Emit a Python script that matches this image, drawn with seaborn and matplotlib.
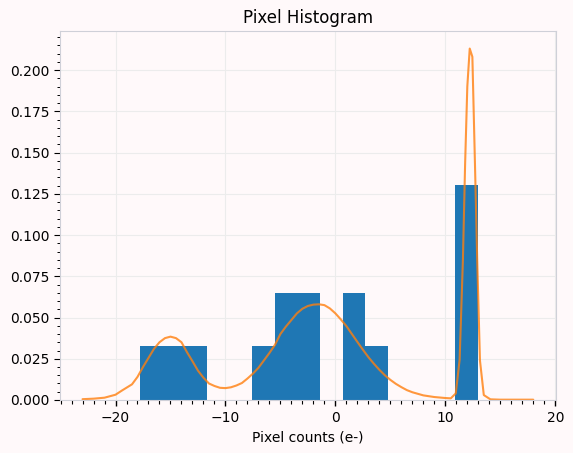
import matplotlib
matplotlib.use('Agg')
import matplotlib.pyplot as plt
import seaborn as sns
from matplotlib.ticker import MultipleLocator

# Pixel values (e-)
pixel_counts = [-17.8, -14.9, -12.6, -6.5, -5.2, -4.1, -3.0, -2.2,
                1.1, 1.9, 3.5, 11.6, 12.1, 12.4, 12.95]
n_bins = 15

# Density curve, points
curve_x = [-23, -22, -21, -20, -19.4, -18.5, -18, -17.5, -17, -16.5, -16,
           -15.5, -15, -14.5, -14, -13.5, -13, -12.5, -12, -11.5, -11, -10.5,
           -10, -9.5, -9, -8.5, -8, -7.5, -7, -6.5, -6, -5.5, -5, -4.5, -4,
           -3.5, -3, -2.5, -2, -1.5, -1, -0.5, 0, 0.5, 1, 1.5, 2, 2.5, 3,
           3.5, 4, 4.5, 5, 5.5, 6, 6.5, 7, 8, 9, 10, 10.5, 10.95, 11.3, 11.6,
           11.8, 12.0, 12.22, 12.46, 12.7, 12.9, 13.15, 13.5, 14.1, 15, 18]
curve_y = [0.0005, 0.0008, 0.0014, 0.0032, 0.0058, 0.0095, 0.0140, 0.0200,
           0.0255, 0.0310, 0.0350, 0.0375, 0.0384, 0.0375, 0.0350, 0.0290,
           0.0235, 0.0178, 0.0135, 0.0100, 0.0085, 0.0074, 0.0072, 0.0077,
           0.0088, 0.0103, 0.0130, 0.0160, 0.0195, 0.0240, 0.0285, 0.0334,
           0.0400, 0.0445, 0.0485, 0.0525, 0.0553, 0.0570, 0.0578, 0.0580,
           0.0575, 0.0555, 0.0525, 0.0488, 0.0448, 0.0400, 0.0352, 0.0305,
           0.0260, 0.0220, 0.0183, 0.0150, 0.0122, 0.0098, 0.0078, 0.0060,
           0.0047, 0.0028, 0.0018, 0.0012, 0.0010, 0.0040, 0.0244, 0.0850,
           0.1430, 0.1900, 0.2130, 0.2080, 0.1420, 0.0850, 0.0240, 0.0030,
           0.0004, 0.0002, 0.0002]

bg = '#fff9fa'
sns.set_style('ticks', {'axes.facecolor': bg, 'figure.facecolor': bg,
                        'axes.edgecolor': '#cfd0d8', 'axes.grid': True,
                        'grid.color': '#ececec',
                        'text.color': 'black', 'axes.labelcolor': 'black'})
plt.rcParams['font.family'] = ['DejaVu Sans']

fig = plt.figure(figsize=(5.73, 4.53), dpi=100)
ax = fig.add_axes([0.1047, 0.117, 0.8653, 0.8146])

sns.histplot(x=pixel_counts, bins=n_bins, stat='density', color='#1f77b4',
             alpha=1.0, edgecolor='none', linewidth=0, ax=ax)
sns.lineplot(x=curve_x, y=curve_y, color='#ff7f0e', alpha=0.8, linewidth=1.5, ax=ax)

ax.set_title('Pixel Histogram', fontsize=12, color='black')
ax.set_xlabel('Pixel counts (e-)', fontsize=10, color='black')
ax.set_ylabel('')
ax.margins(x=0.05, y=0.05)
ax.set_ylim(bottom=0)

# ticks: major + minor on both axes
ax.xaxis.set_minor_locator(MultipleLocator(1))
ax.yaxis.set_minor_locator(MultipleLocator(0.005))
ax.tick_params(axis='x', which='both', length=4.5, width=1.0, colors='black',
               direction='out', bottom=True)
ax.tick_params(axis='x', which='minor', length=2.8, width=0.8)
ax.tick_params(axis='y', which='both', length=4, width=0.8, colors='black',
               direction='out', left=True)
ax.tick_params(axis='y', which='minor', length=2.5, width=0.7)
ax.tick_params(axis='both', which='major', labelsize=10)

fig.savefig('out.png', dpi=100, facecolor=bg)
